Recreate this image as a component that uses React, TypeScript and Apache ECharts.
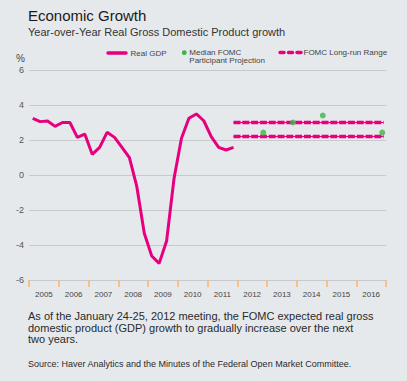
import React, { useEffect, useRef } from "react";
import * as echarts from "echarts";

// ---- Data ----
const years = ["2005", "2006", "2007", "2008", "2009", "2010", "2011", "2012", "2013", "2014", "2015", "2016"];
// Quarterly year-over-year real GDP growth, 2005Q1 .. 2011Q4 (%)
const gdpValues = [
  3.24, 3.05, 3.09, 2.78,
  3.0, 3.0, 2.15, 2.34,
  1.18, 1.58, 2.44, 2.15,
  1.58, 0.99, -0.67, -3.33,
  -4.63, -5.05, -3.77, -0.2,
  2.1, 3.24, 3.49, 3.1,
  2.19, 1.58, 1.43, 1.58,
];
const gdpStartYear = 2005;
// Median FOMC participant projections (Q4 of each year; last one = longer run)
const projYears = [2012, 2013, 2014, 2016];
const projValues = [2.42, 3.0, 3.4, 2.42];
// FOMC long-run range
const rangeLow = 2.2;
const rangeHigh = 3.0;
const rangeFrom = 2011.875;
const rangeTo = 2016.92;
const yTicks = { min: -6, max: 6, interval: 2 };

const MAGENTA = "#e6007e";
const GREEN = "#3cb54a";
const FONT = "'Liberation Sans', Arial, Helvetica, sans-serif";

export default function App() {
  const ref = useRef<HTMLDivElement>(null);
  useEffect(() => {
    if (!ref.current) return;
    const chart = echarts.init(ref.current, undefined, { renderer: "svg" });
    const gdpData = gdpValues.map((v, i) => [gdpStartYear + (i + 0.5) / 4, v]);
    const projData = projValues.map((v, i) => [projYears[i] + 0.875, v]);
    const rangeLine = (v: number) => [
      [rangeFrom, v],
      [rangeTo, v],
    ];
    const rangeSeries = (v: number) => [
      {
        type: "line",
        xAxisIndex: 1,
        data: rangeLine(v),
        symbol: "none",
        z: 2,
        lineStyle: { color: MAGENTA, width: 1 },
        silent: true,
      },
      {
        type: "line",
        xAxisIndex: 1,
        data: rangeLine(v),
        symbol: "none",
        z: 2,
        lineStyle: { color: MAGENTA, width: 3.5, type: [7, 1.8] },
        silent: true,
      },
    ];
    chart.setOption({
      animation: false,
      backgroundColor: "#e6e9ec",
      textStyle: { fontFamily: FONT },
      grid: { left: 29, right: 21, top: 70, bottom: 101, containLabel: false },
      xAxis: [
        {
          type: "category",
          data: years,
          boundaryGap: true,
          axisLine: { show: false, onZero: false },
          axisTick: { show: true, length: 7, lineStyle: { color: "#f7b56f", width: 1.5 }, interval: 0 },
          axisLabel: { color: "#444", fontSize: 8, margin: 10, fontFamily: FONT, interval: 0 },
          splitLine: { show: false },
        },
        {
          type: "value",
          min: 2005,
          max: 2017,
          show: false,
        },
      ],
      yAxis: {
        type: "value",
        min: yTicks.min,
        max: yTicks.max,
        interval: yTicks.interval,
        axisLine: { show: false },
        axisTick: { show: false },
        axisLabel: { color: "#555", fontSize: 9, margin: 5, fontFamily: FONT },
        splitLine: { lineStyle: { color: "#c6cacd", width: 1 } },
      },
      series: [
        ...rangeSeries(rangeHigh),
        ...rangeSeries(rangeLow),
        {
          type: "line",
          xAxisIndex: 1,
          data: gdpData,
          symbol: "none",
          z: 3,
          lineStyle: { color: MAGENTA, width: 3 },
        },
        {
          type: "scatter",
          xAxisIndex: 1,
          data: projData,
          symbolSize: 6,
          z: 10,
          itemStyle: { color: GREEN },
        },
      ],
      graphic: [
        {
          type: "text",
          left: 28,
          top: 8,
          style: { text: "Economic Growth", fontSize: 15, fill: "#1a1a1a", fontFamily: FONT },
        },
        {
          type: "text",
          left: 28,
          top: 26,
          style: { text: "Year-over-Year Real Gross Domestic Product growth", fontSize: 11, fill: "#333", fontFamily: FONT },
        },
        {
          type: "text",
          left: 16,
          top: 53,
          style: { text: "%", fontSize: 10, fill: "#444", fontFamily: FONT },
        },
        // legend: Real GDP
        {
          type: "line",
          shape: { x1: 108, y1: 53, x2: 126, y2: 53 },
          style: { stroke: MAGENTA, lineWidth: 3.5, lineCap: "round" },
        },
        {
          type: "text",
          x: 130.5,
          y: 53,
          style: { text: "Real GDP", fontSize: 8, fill: "#444", fontFamily: FONT, verticalAlign: "middle" },
        },
        // legend: Median FOMC
        {
          type: "circle",
          shape: { cx: 184.3, cy: 52.7, r: 2.4 },
          style: { fill: GREEN },
        },
        {
          type: "text",
          x: 189.3,
          y: 52.6,
          style: { text: "Median FOMC", fontSize: 8, fill: "#444", fontFamily: FONT, verticalAlign: "middle" },
        },
        {
          type: "text",
          x: 189.3,
          y: 60.7,
          style: { text: "Participant Projection", fontSize: 8, fill: "#444", fontFamily: FONT, verticalAlign: "middle" },
        },
        // legend: FOMC long-run range
        {
          type: "line",
          shape: { x1: 280, y1: 52.5, x2: 301, y2: 52.5 },
          style: { stroke: MAGENTA, lineWidth: 3.5, lineCap: "round", lineDash: [4, 4.5] },
        },
        {
          type: "text",
          x: 303.5,
          y: 52.5,
          style: { text: "FOMC Long-run Range", fontSize: 8, fill: "#444", fontFamily: FONT, verticalAlign: "middle" },
        },
        // paragraph
        {
          type: "text",
          left: 28,
          top: 310,
          style: {
            text:
              "As of the January 24-25, 2012 meeting, the FOMC expected real gross\ndomestic product (GDP) growth to gradually increase over the next\ntwo years.",
            fontSize: 11,
            lineHeight: 11.7,
            fill: "#2a2a2a",
            fontFamily: FONT,
          },
        },
        {
          type: "text",
          left: 28,
          top: 359,
          style: {
            text: "Source: Haver Analytics and the Minutes of the Federal Open Market Committee.",
            fontSize: 9,
            fill: "#2a2a2a",
            fontFamily: FONT,
          },
        },
      ],
    });
    return () => chart.dispose();
  }, []);
  return (
    <div
      ref={ref}
      style={{ position: "fixed", left: 0, top: 0, width: 407, height: 381 }}
    />
  );
}
